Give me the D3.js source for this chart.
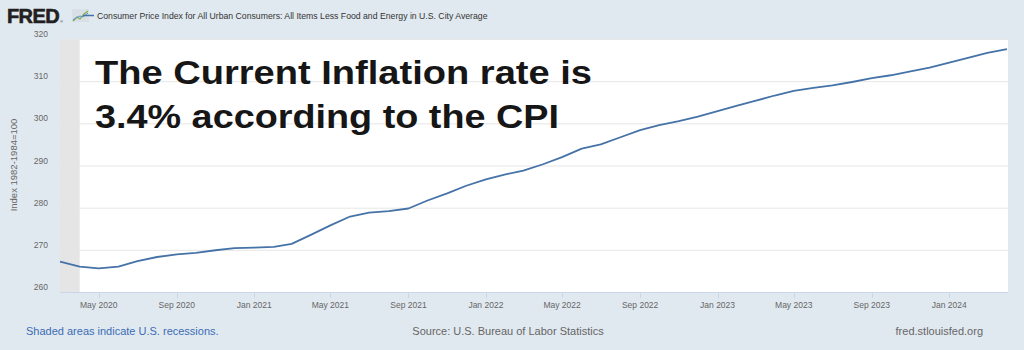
<!DOCTYPE html>
<html>
<head>
<meta charset="utf-8">
<script src="https://cdn.jsdelivr.net/npm/d3@7"></script>
<style>
  body { margin: 0; background: #e1e9f0; }
  svg { display: block; font-family: "Liberation Sans", Arial, sans-serif; }
</style>
</head>
<body>
<div id="chart"></div>
<script>
// monthly core CPI, Mar 2020 - Apr 2024
const months = [
  "2020-03","2020-04","2020-05","2020-06","2020-07","2020-08","2020-09","2020-10","2020-11","2020-12",
  "2021-01","2021-02","2021-03","2021-04","2021-05","2021-06","2021-07","2021-08","2021-09","2021-10","2021-11","2021-12",
  "2022-01","2022-02","2022-03","2022-04","2022-05","2022-06","2022-07","2022-08","2022-09","2022-10","2022-11","2022-12",
  "2023-01","2023-02","2023-03","2023-04","2023-05","2023-06","2023-07","2023-08","2023-09","2023-10","2023-11","2023-12",
  "2024-01","2024-02","2024-03","2024-04"
]
const cpi = [
  267.2, 266.0, 265.6, 266.0, 267.3, 268.3, 268.9, 269.3, 269.9, 270.4,
  270.5, 270.7, 271.4, 273.6, 275.8, 277.9, 278.8, 279.2, 279.8, 281.7, 283.4, 285.2,
  286.7, 287.9, 288.8, 290.3, 292.0, 294.0, 295.0, 296.7, 298.4, 299.6, 300.5, 301.6,
  302.9, 304.2, 305.3, 306.6, 307.7, 308.4, 309.0, 309.8, 310.7, 311.4, 312.3, 313.2,
  314.4, 315.6, 316.7, 317.6
]
const yTicks = [260, 270, 280, 290, 300, 310, 320]
const xTickMonths = ["2020-05","2020-09","2021-01","2021-05","2021-09","2022-01",
  "2022-05","2022-09","2023-01","2023-05","2023-09","2024-01"]
const recessions = [["2020-03", "2020-04"]]

const seriesTitle = "Consumer Price Index for All Urban Consumers: All Items Less Food and Energy in U.S. City Average"
const headline = ["The Current Inflation rate is", "3.4% according to the CPI"]

const width = 1024, height = 350
const plot = { left: 60, right: 1008, top: 39, bottom: 292 }

const parse = d3.timeParse("%Y-%m")
const data = months.map((m, i) => ({ date: parse(m), value: cpi[i] }))

const svg = d3.select("#chart").append("svg")
    .attr("width", width)
    .attr("height", height)

svg.append("rect")
    .attr("width", width).attr("height", height)
    .attr("fill", "#e1e9f0")

const x = d3.scaleTime()
    .domain([parse("2020-03"), parse("2024-04")])
    .range([plot.left, plot.right - 1])

const y = d3.scaleLinear()
    .domain([260, 320])
    .range([plot.bottom, plot.top])

// plot background
svg.append("rect")
    .attr("x", plot.left).attr("y", plot.top)
    .attr("width", plot.right - plot.left)
    .attr("height", plot.bottom - plot.top)
    .attr("fill", "#fff")

// recession shading
svg.selectAll(".recession")
    .data(recessions)
    .join("rect")
    .attr("class", "recession")
    .attr("x", d => x(parse(d[0])))
    .attr("y", plot.top)
    .attr("width", d => x(parse(d[1])) - x(parse(d[0])))
    .attr("height", plot.bottom - plot.top)
    .attr("fill", "#e5e5e5")

// gridlines
svg.selectAll(".grid")
    .data(yTicks.slice(1))
    .join("line")
    .attr("class", "grid")
    .attr("x1", plot.left).attr("x2", plot.right)
    .attr("y1", d => y(d) + 0.5).attr("y2", d => y(d) + 0.5)
    .attr("stroke", "#e6e6e6")
    .attr("stroke-width", 1)

// y labels
svg.selectAll(".ylab")
    .data(yTicks)
    .join("text")
    .attr("class", "ylab")
    .attr("x", 48)
    .attr("y", d => y(d) - 2)
    .attr("text-anchor", "end")
    .attr("font-size", "8.5px")
    .attr("fill", "#666")
    .text(d => d)

svg.append("text")
    .attr("transform", "translate(17,165) rotate(-90)")
    .attr("text-anchor", "middle")
    .attr("font-size", "9.5px")
    .attr("fill", "#666")
    .text("Index 1982-1984=100")

// x axis
svg.append("line")
    .attr("x1", plot.left).attr("x2", plot.right)
    .attr("y1", plot.bottom + 0.5).attr("y2", plot.bottom + 0.5)
    .attr("stroke", "#ccd6eb")

const xTicks = xTickMonths.map(parse)
svg.selectAll(".xtick")
    .data(xTicks)
    .join("line")
    .attr("class", "xtick")
    .attr("x1", d => Math.round(x(d)) + 0.5).attr("x2", d => Math.round(x(d)) + 0.5)
    .attr("y1", plot.bottom).attr("y2", plot.bottom + 6)
    .attr("stroke", "#ccd6eb")

svg.selectAll(".xlab")
    .data(xTicks)
    .join("text")
    .attr("class", "xlab")
    .attr("x", d => x(d))
    .attr("y", 307.5)
    .attr("text-anchor", "middle")
    .attr("font-size", "8.5px")
    .attr("fill", "#666")
    .text(d3.timeFormat("%b %Y"))

// series line
const line = d3.line()
    .x(d => x(d.date))
    .y(d => y(d.value))

svg.append("path")
    .datum(data)
    .attr("d", line)
    .attr("fill", "none")
    .attr("stroke", "#4572a7")
    .attr("stroke-width", 1.8)
    .attr("stroke-linejoin", "round")

// headline
svg.selectAll(".headline")
    .data(headline)
    .join("text")
    .attr("class", "headline")
    .attr("x", 95)
    .attr("y", (d, i) => 84 + i * 44)
    .attr("font-size", "34px")
    .attr("font-weight", "bold")
    .attr("fill", "#161616")
    .attr("textLength", (d, i) => i === 0 ? 497 : 464)
    .attr("lengthAdjust", "spacingAndGlyphs")
    .text(d => d)

// header: logo + legend
svg.append("text")
    .attr("x", 7).attr("y", 23)
    .attr("font-size", "20px")
    .attr("font-weight", "bold")
    .attr("letter-spacing", "-0.6")
    .attr("fill", "#231f20")
    .attr("stroke", "#231f20")
    .attr("stroke-width", 0.6)
    .text("FRED")
svg.append("text")
    .attr("x", 60).attr("y", 23)
    .attr("font-size", "4px")
    .attr("fill", "#231f20")
    .text("®")

const logo = svg.append("g").attr("transform", "translate(72,9)")
logo.append("rect")
    .attr("width", 17).attr("height", 13)
    .attr("fill", "#d9dfe5")
logo.append("polyline")
    .attr("points", "1,12 5,8 8,10 12,5 16,2")
    .attr("fill", "none").attr("stroke", "#7fb241").attr("stroke-width", 1.2)
logo.append("polyline")
    .attr("points", "1,11 4,9 8,7 11,8 16,4")
    .attr("fill", "none").attr("stroke", "#5b8fc9").attr("stroke-width", 1)

svg.append("line")
    .attr("x1", 83).attr("x2", 94)
    .attr("y1", 15.5).attr("y2", 15.5)
    .attr("stroke", "#4572a7").attr("stroke-width", 1.5)

svg.append("text")
    .attr("x", 97).attr("y", 18.5)
    .attr("font-size", "8.7px")
    .attr("fill", "#333")
    .text(seriesTitle)

// footer
svg.append("text")
    .attr("x", 26).attr("y", 335)
    .attr("font-size", "11px")
    .attr("fill", "#3b6cb4")
    .text("Shaded areas indicate U.S. recessions.")
svg.append("text")
    .attr("x", 508).attr("y", 335)
    .attr("text-anchor", "middle")
    .attr("font-size", "11px")
    .attr("fill", "#666")
    .text("Source: U.S. Bureau of Labor Statistics")
svg.append("text")
    .attr("x", 983).attr("y", 335)
    .attr("text-anchor", "end")
    .attr("font-size", "11px")
    .attr("fill", "#666")
    .text("fred.stlouisfed.org")
</script>
</body>
</html>
